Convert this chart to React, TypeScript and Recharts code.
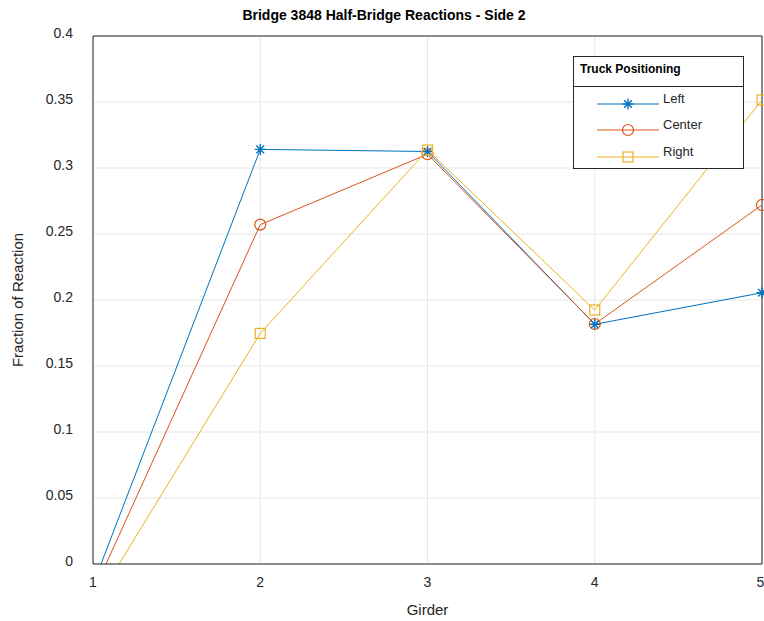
import { CartesianGrid, Line, LineChart, ReferenceLine, XAxis, YAxis } from 'recharts';

const GIRDERS = [1, 2, 3, 4, 5];
const LEFT = [-0.0158, 0.3141, 0.3125, 0.1816, 0.2055];
const CENTER = [-0.0217, 0.2571, 0.3104, 0.1818, 0.272];
const RIGHT = [-0.0322, 0.1747, 0.3136, 0.1924, 0.3515];
const Y_TICKS = [0, 0.05, 0.1, 0.15, 0.2, 0.25, 0.3, 0.35, 0.4];

const SERIES = [
  { key: 'left', name: 'Left', color: '#0072BD', marker: 'star' },
  { key: 'center', name: 'Center', color: '#D95319', marker: 'circle' },
  { key: 'right', name: 'Right', color: '#EDB120', marker: 'square' },
] as const;

const FONT = '"Liberation Sans", Arial, sans-serif';

const data = GIRDERS.map((g, i) => ({
  girder: g,
  left: LEFT[i],
  center: CENTER[i],
  right: RIGHT[i],
}));

function Marker({ cx, cy, type, color }: { cx: number; cy: number; type: string; color: string }) {
  if (type === 'circle') {
    return <circle cx={cx} cy={cy} r={5.5} fill="none" stroke={color} strokeWidth={1.2} />;
  }
  if (type === 'square') {
    return <rect x={cx - 5} y={cy - 5} width={10} height={10} fill="none" stroke={color} strokeWidth={1.2} />;
  }
  const r = 5.5;
  const d = r * 0.7;
  return (
    <g stroke={color} strokeWidth={1.4}>
      <line x1={cx} y1={cy - r} x2={cx} y2={cy + r} />
      <line x1={cx - d} y1={cy - d} x2={cx + d} y2={cy + d} />
      <line x1={cx - d} y1={cy + d} x2={cx + d} y2={cy - d} />
      <line x1={cx - r} y1={cy} x2={cx + r} y2={cy} />
    </g>
  );
}

const makeDot = (type: string, color: string) => (props: any) => {
  const { cx, cy, value, index } = props;
  if (value == null || value < 0 || cx == null) return <g key={index} />;
  return (
    <g key={index}>
      <Marker cx={cx} cy={cy} type={type} color={color} />
    </g>
  );
};

const LegendBox = () => (
  <div
    style={{
      position: 'absolute',
      left: 573,
      top: 56,
      width: 171,
      height: 113,
      border: '1px solid #262626',
      background: '#fff',
      fontFamily: FONT,
      boxSizing: 'border-box',
    }}
  >
    <div
      style={{
        height: 30,
        borderBottom: '1px solid #262626',
        fontWeight: 'bold',
        fontSize: 12,
        paddingLeft: 6,
        lineHeight: '24px',
        boxSizing: 'border-box',
      }}
    >
      Truck Positioning
    </div>
    {SERIES.map((s, i) => (
      <div key={s.key} style={{ position: 'relative', height: i === 0 ? 26 : 27 }}>
        <svg width={90} height={28} style={{ position: 'absolute', left: 0, top: 0 }}>
          <line x1={23} y1={17} x2={85} y2={17} stroke={s.color} strokeWidth={1} />
          <Marker cx={54} cy={17} type={s.marker} color={s.color} />
        </svg>
        <span style={{ position: 'absolute', left: 89, top: 4, fontSize: 13, color: '#262626' }}>{s.name}</span>
      </div>
    ))}
  </div>
);

export default function App() {
  return (
    <div style={{ position: 'absolute', left: 0, top: 0, width: 764, height: 621, background: '#fff' }}>
      <LineChart width={764} height={621} data={data} margin={{ top: 36, right: 2, bottom: 0, left: 0 }}>
        <CartesianGrid stroke="#e6e6e6" strokeWidth={1} />
        <XAxis
          dataKey="girder"
          type="number"
          domain={[1, 5]}
          ticks={GIRDERS}
          height={57}
          stroke="#262626"
          tickLine={false}
          tickMargin={7}
          tick={{ fill: '#262626', fontSize: 14, fontFamily: FONT }}
          label={{ value: 'Girder', position: 'insideBottom', offset: 6, fill: '#262626', fontSize: 15, fontFamily: FONT }}
        />
        <YAxis
          type="number"
          domain={[0, 0.4]}
          allowDataOverflow
          ticks={Y_TICKS}
          width={93}
          stroke="#262626"
          tickLine={false}
          tickMargin={14}
          tickFormatter={(v: number) => String(+v.toFixed(2))}
          tick={{ fill: '#262626', fontSize: 14, fontFamily: FONT, dy: -3 }}
          label={{
            value: 'Fraction of Reaction',
            angle: -90,
            position: 'insideLeft',
            offset: 18,
            style: { textAnchor: 'middle', fill: '#262626', fontSize: 15, fontFamily: FONT },
          }}
        />
        <ReferenceLine y={0.4} stroke="#262626" />
        <ReferenceLine x={5} stroke="#262626" />
        {SERIES.map((s) => (
          <Line
            key={s.key}
            dataKey={s.key}
            name={s.name}
            stroke={s.color}
            strokeWidth={1}
            dot={makeDot(s.marker, s.color)}
            activeDot={false}
            isAnimationActive={false}
          />
        ))}
      </LineChart>
      <div
        style={{
          position: 'absolute',
          top: 7,
          left: 0,
          width: 768,
          textAlign: 'center',
          fontFamily: FONT,
          fontWeight: 'bold',
          fontSize: 14,
          color: '#000',
        }}
      >
        Bridge 3848 Half-Bridge Reactions - Side 2
      </div>
      <LegendBox />
    </div>
  );
}
